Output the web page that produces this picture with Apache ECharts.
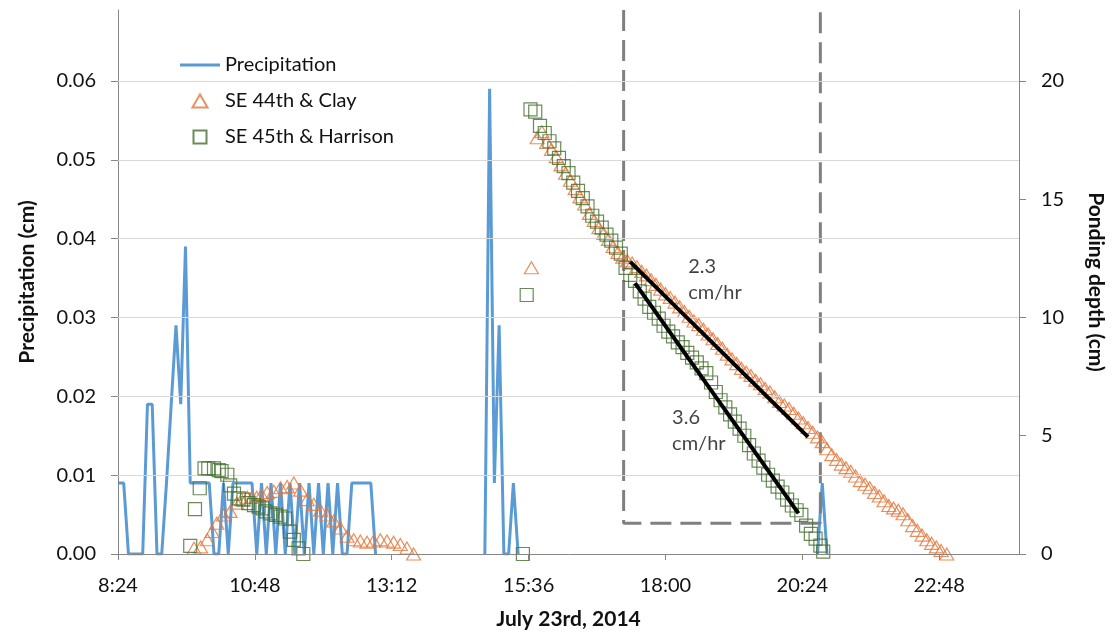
<!DOCTYPE html>
<html>
<head>
<meta charset="utf-8">
<title>Precipitation and ponding depth</title>
<script src="https://cdn.jsdelivr.net/npm/echarts@6/dist/echarts.min.js"></script>
<style>
  html, body { margin: 0; padding: 0; background: #fff; }
  #chart { width: 1115px; height: 637px; }
</style>
</head>
<body>
<div id="chart"></div>
<script>
// axis ranges (time in minutes after midnight)
const timeMin = 504, timeMax = 1452, timeStep = 144;
const timeTicks = ["8:24", "10:48", "13:12", "15:36", "18:00", "20:24", "22:48"];
const precipTicks = [0, 0.01, 0.02, 0.03, 0.04, 0.05, 0.06];
const depthTicks = [0, 5, 10, 15, 20];

// precipitation (cm), 5 min readings, three storm bursts
const precipMorning = [
  ["8:25", 0.009], ["8:30", 0.009], ["8:35", 0], ["8:40", 0], ["8:45", 0], ["8:50", 0],
  ["8:55", 0.019], ["9:00", 0.019], ["9:05", 0], ["9:10", 0], ["9:15", 0.009], ["9:20", 0.019],
  ["9:25", 0.029], ["9:30", 0.019], ["9:35", 0.039], ["9:40", 0.009], ["9:45", 0.009], ["9:50", 0.009],
  ["9:55", 0.009], ["10:00", 0.009], ["10:05", 0], ["10:10", 0], ["10:15", 0.009], ["10:20", 0],
  ["10:25", 0.009], ["10:30", 0.009], ["10:35", 0.009], ["10:40", 0.009], ["10:45", 0.009], ["10:50", 0],
  ["10:55", 0.009], ["11:00", 0], ["11:05", 0.009], ["11:10", 0], ["11:15", 0.009], ["11:20", 0],
  ["11:25", 0.009], ["11:30", 0], ["11:35", 0.009], ["11:40", 0], ["11:45", 0.009], ["11:50", 0],
  ["11:55", 0.009], ["12:00", 0], ["12:05", 0.009], ["12:10", 0], ["12:15", 0.009], ["12:20", 0],
  ["12:25", 0], ["12:30", 0.009], ["12:35", 0.009], ["12:40", 0.009], ["12:45", 0.009], ["12:50", 0.009],
  ["12:55", 0]
];
const precipAfternoon = [
  ["14:50", 0], ["14:55", 0.059], ["15:00", 0.009], ["15:05", 0.029], ["15:10", 0], ["15:15", 0],
  ["15:20", 0.009], ["15:25", 0]
];
const precipEvening = [["20:40", 0], ["20:45", 0.009], ["20:50", 0]];

// ponding depth (cm)
const clayDepth = [
  ["9:44", 0.24], ["9:51", 0.3], ["9:58", 0.6], ["10:03", 0.95], ["10:08", 1.3], ["10:15", 1.65],
  ["10:22", 1.8], ["10:29", 2.15], ["10:34", 2.3], ["10:40", 2.4], ["10:45", 2.4], ["10:50", 2.4],
  ["10:55", 2.5], ["11:01", 2.6], ["11:08", 2.65], ["11:15", 2.8], ["11:22", 2.85], ["11:29", 3.0],
  ["11:36", 2.7], ["11:43", 2.3], ["11:50", 2.1], ["11:57", 1.85], ["12:04", 1.65], ["12:11", 1.4],
  ["12:18", 1.1], ["12:25", 0.75], ["12:32", 0.6], ["12:39", 0.55], ["12:46", 0.5], ["12:53", 0.55],
  ["13:00", 0.6], ["13:07", 0.55], ["13:14", 0.5], ["13:21", 0.4], ["13:28", 0.25], ["13:35", 0.0],
  ["15:39", 12.1], ["15:45", 17.6], ["15:50", 17.85], ["15:55", 17.4], ["16:00", 17.1], ["16:05", 16.8],
  ["16:10", 16.45], ["16:15", 16.1], ["16:20", 15.8], ["16:25", 15.45], ["16:30", 15.1], ["16:35", 14.8],
  ["16:40", 14.4], ["16:45", 14.1], ["16:50", 13.8], ["16:55", 13.55], ["17:00", 13.3], ["17:05", 13.0],
  ["17:10", 12.75], ["17:15", 12.55], ["17:20", 12.4], ["17:25", 12.3], ["17:30", 12.15], ["17:35", 11.95],
  ["17:40", 11.8], ["17:45", 11.6], ["17:50", 11.4], ["17:55", 11.2], ["18:00", 11.0], ["18:05", 10.85],
  ["18:10", 10.65], ["18:15", 10.45], ["18:20", 10.25], ["18:25", 10.05], ["18:30", 9.85], ["18:35", 9.7],
  ["18:40", 9.5], ["18:45", 9.3], ["18:50", 9.1], ["18:55", 8.9], ["19:00", 8.7], ["19:05", 8.45],
  ["19:10", 8.25], ["19:15", 8.05], ["19:20", 7.85], ["19:25", 7.7], ["19:30", 7.55], ["19:35", 7.35],
  ["19:40", 7.2], ["19:45", 7.0], ["19:50", 6.85], ["19:55", 6.65], ["20:00", 6.45], ["20:05", 6.3],
  ["20:10", 6.15], ["20:15", 5.95], ["20:20", 5.75], ["20:25", 5.55], ["20:30", 5.35], ["20:35", 5.15],
  ["20:40", 4.95], ["20:45", 4.75], ["20:50", 4.45], ["20:55", 4.2], ["21:00", 4.0], ["21:05", 3.8],
  ["21:10", 3.65], ["21:15", 3.5], ["21:20", 3.3], ["21:25", 3.1], ["21:30", 2.95], ["21:35", 2.8],
  ["21:40", 2.6], ["21:45", 2.45], ["21:50", 2.25], ["21:55", 2.05], ["22:00", 1.95], ["22:05", 1.85],
  ["22:10", 1.7], ["22:15", 1.45], ["22:20", 1.2], ["22:25", 1.0], ["22:30", 0.8], ["22:35", 0.6],
  ["22:40", 0.45], ["22:45", 0.3], ["22:50", 0.15], ["22:56", 0.0]
];
const harrisonDepth = [
  ["9:40", 0.34], ["9:45", 1.9], ["9:50", 2.78], ["9:55", 3.62], ["9:59", 3.62], ["10:05", 3.62],
  ["10:10", 3.55], ["10:13", 3.5], ["10:19", 3.35], ["10:22", 2.9], ["10:26", 2.55], ["10:31", 2.35],
  ["10:36", 2.3], ["10:41", 2.15], ["10:47", 2.07], ["10:52", 2.0], ["10:56", 1.93], ["10:59", 1.8],
  ["11:04", 1.72], ["11:10", 1.65], ["11:15", 1.58], ["11:20", 1.5], ["11:25", 0.95], ["11:29", 0.6],
  ["11:34", 0.24], ["11:39", 0.0],
  ["15:30", 0.0], ["15:34", 10.95], ["15:38", 18.8], ["15:43", 18.7], ["15:48", 18.1], ["15:53", 17.8],
  ["15:58", 17.45], ["16:03", 17.15], ["16:08", 16.75], ["16:13", 16.4], ["16:18", 16.1], ["16:23", 15.7],
  ["16:28", 15.35], ["16:33", 15.05], ["16:38", 14.7], ["16:43", 14.3], ["16:48", 14.05], ["16:53", 13.8],
  ["16:58", 13.5], ["17:03", 13.25], ["17:08", 12.95], ["17:13", 12.7], ["17:18", 12.1], ["17:23", 11.8],
  ["17:28", 11.55], ["17:33", 11.1], ["17:38", 10.8], ["17:43", 10.45], ["17:48", 10.2], ["17:53", 9.95],
  ["17:58", 9.65], ["18:03", 9.4], ["18:08", 9.2], ["18:13", 8.95], ["18:18", 8.75], ["18:23", 8.5],
  ["18:28", 8.3], ["18:33", 8.1], ["18:38", 7.85], ["18:43", 7.65], ["18:48", 7.25], ["18:53", 6.85],
  ["18:58", 6.5], ["19:03", 6.2], ["19:08", 5.9], ["19:13", 5.6], ["19:18", 5.3], ["19:23", 5.0],
  ["19:28", 4.6], ["19:33", 4.25], ["19:38", 3.95], ["19:43", 3.65], ["19:48", 3.35], ["19:53", 3.1],
  ["19:58", 2.85], ["20:03", 2.6], ["20:08", 2.3], ["20:13", 2.05], ["20:18", 1.85], ["20:23", 1.65],
  ["20:28", 1.2], ["20:33", 0.85], ["20:38", 0.65], ["20:43", 0.35], ["20:46", 0.1]
];

// infiltration rate fits and the analysed window
const clayFit = [["17:23", 12.35], ["20:30", 4.95]];
const harrisonFit = [["17:28", 11.45], ["20:20", 1.72]];
const windowBox = [["17:16", 23], ["17:16", 1.3], ["20:43", 1.3], ["20:43", 23]];
const rateNotes = [
  { at: ["18:24", 11.6], text: "2.3\ncm/hr" },
  { at: ["18:07", 5.2], text: "3.6\ncm/hr" }
];

function toMin(s) {
  const p = s.split(":");
  return +p[0] * 60 + +p[1];
}
function toClock(m) {
  const h = Math.floor(m / 60), mm = Math.round(m % 60);
  return h + ":" + (mm < 10 ? "0" : "") + mm;
}
const pts = arr => arr.map(d => [toMin(d[0]), d[1]]);

// bursts split by gaps so the line breaks between them
const precipData = [].concat(pts(precipMorning), [[toMin("13:00"), null]],
  pts(precipAfternoon), [[toMin("15:30"), null]], pts(precipEvening));

const font = "Lato, 'Open Sans', sans-serif";
const textColor = "#111";
const axisColor = "#868686";
const blue = "#5B9BD5", orange = "#E2763A", green = "#436E2E";

const chart = echarts.init(document.getElementById("chart"));
const option = {
  animation: false,
  textStyle: { fontFamily: font },
  grid: { left: 118, right: 96, top: 10, bottom: 83 },
  legend: {
    data: [
      { name: "Precipitation", icon: "path://M0,0H40V3H0Z" },
      { name: "SE 44th & Clay", icon: "path://M7,0L14,12L0,12Z" },
      { name: "SE 45th & Harrison", icon: "path://M0,0H12V12H0Z" }
    ],
    orient: "vertical",
    left: 180,
    top: 55,
    padding: 0,
    itemWidth: 40,
    itemHeight: 13,
    itemGap: 16,
    symbolKeepAspect: true,
    selectedMode: false,
    textStyle: { fontSize: 20, color: textColor, fontFamily: font }
  },
  xAxis: {
    type: "value",
    min: timeMin,
    max: timeMax,
    interval: timeStep,
    z: 10,
    name: "July 23rd, 2014",
    nameLocation: "middle",
    nameGap: 55,
    nameTextStyle: { fontSize: 21, fontWeight: "bold", color: textColor, fontFamily: font },
    axisLine: { show: true, onZero: false, lineStyle: { color: axisColor, width: 1 } },
    axisTick: { show: true, length: 6, customValues: timeTicks.map(toMin), lineStyle: { color: axisColor } },
    axisLabel: {
      customValues: timeTicks.map(toMin),
      formatter: v => toClock(v),
      fontSize: 20, color: textColor, margin: 22, fontFamily: font
    },
    splitLine: { show: false }
  },
  yAxis: [
    {
      type: "value",
      min: 0,
      max: 0.069,
      interval: 0.01,
      position: "left",
      name: "Precipitation (cm)",
      nameLocation: "middle",
      nameGap: 80,
      nameTextStyle: { fontSize: 21, fontWeight: "bold", color: textColor, fontFamily: font },
      axisLine: { show: true, lineStyle: { color: axisColor, width: 1 } },
      axisTick: { show: true, length: 7, customValues: precipTicks, lineStyle: { color: axisColor } },
      axisLabel: {
        customValues: precipTicks,
        formatter: v => v.toFixed(2),
        fontSize: 20, color: textColor, margin: 22, fontFamily: font
      },
      splitLine: { show: false }
    },
    {
      type: "value",
      min: 0,
      max: 23,
      interval: 5,
      position: "right",
      name: "Ponding depth (cm)",
      nameLocation: "middle",
      nameGap: 66,
      nameRotate: -90,
      nameTextStyle: { fontSize: 21, fontWeight: "bold", color: textColor, fontFamily: font },
      axisLine: { show: true, lineStyle: { color: axisColor, width: 1 } },
      axisTick: { show: true, length: 7, customValues: depthTicks, lineStyle: { color: axisColor } },
      axisLabel: {
        customValues: depthTicks,
        fontSize: 20, color: textColor, margin: 22, fontFamily: font
      },
      splitLine: { show: false }
    }
  ],
  series: [
    {
      // horizontal gridlines
      name: "grid",
      type: "line",
      data: [],
      z: 0,
      silent: true,
      markLine: {
        silent: true,
        symbol: ["none", "none"],
        label: { show: false },
        lineStyle: { color: "#d9d9d9", type: "solid", width: 1 },
        data: precipTicks.slice(1).map(v => ({ yAxis: v }))
      }
    },
    {
      name: "Precipitation",
      type: "line",
      yAxisIndex: 0,
      data: precipData,
      symbol: "none",
      connectNulls: false,
      lineStyle: { color: blue, width: 3 },
      itemStyle: { color: blue },
      z: 2
    },
    {
      name: "window",
      type: "line",
      yAxisIndex: 1,
      data: pts(windowBox),
      symbol: "none",
      silent: true,
      lineStyle: { color: "#808080", width: 3, type: [21, 9] },
      z: 3
    },
    {
      name: "SE 44th & Clay",
      type: "scatter",
      yAxisIndex: 1,
      data: pts(clayDepth),
      symbol: "triangle",
      symbolSize: [14, 12],
      itemStyle: { color: "rgba(0,0,0,0)", borderColor: orange, borderWidth: 1.2 },
      z: 4
    },
    {
      name: "SE 45th & Harrison",
      type: "scatter",
      yAxisIndex: 1,
      data: pts(harrisonDepth),
      symbol: "rect",
      symbolSize: 13,
      itemStyle: { color: "rgba(0,0,0,0)", borderColor: green, borderWidth: 1.2 },
      z: 5
    },
    {
      name: "clay fit",
      type: "line",
      yAxisIndex: 1,
      data: pts(clayFit),
      symbol: "none",
      silent: true,
      lineStyle: { color: "#000", width: 4 },
      z: 6
    },
    {
      name: "harrison fit",
      type: "line",
      yAxisIndex: 1,
      data: pts(harrisonFit),
      symbol: "none",
      silent: true,
      lineStyle: { color: "#000", width: 4 },
      z: 6
    },
    {
      name: "notes",
      type: "scatter",
      yAxisIndex: 1,
      symbolSize: 0,
      silent: true,
      data: rateNotes.map(n => ({ value: [toMin(n.at[0]), n.at[1]], text: n.text })),
      label: {
        show: true,
        position: "right",
        distance: 0,
        formatter: p => p.data.text,
        fontSize: 20,
        lineHeight: 26,
        color: textColor,
        fontFamily: font,
        align: "left"
      },
      z: 7
    }
  ]
};
chart.setOption(option);
</script>
</body>
</html>
